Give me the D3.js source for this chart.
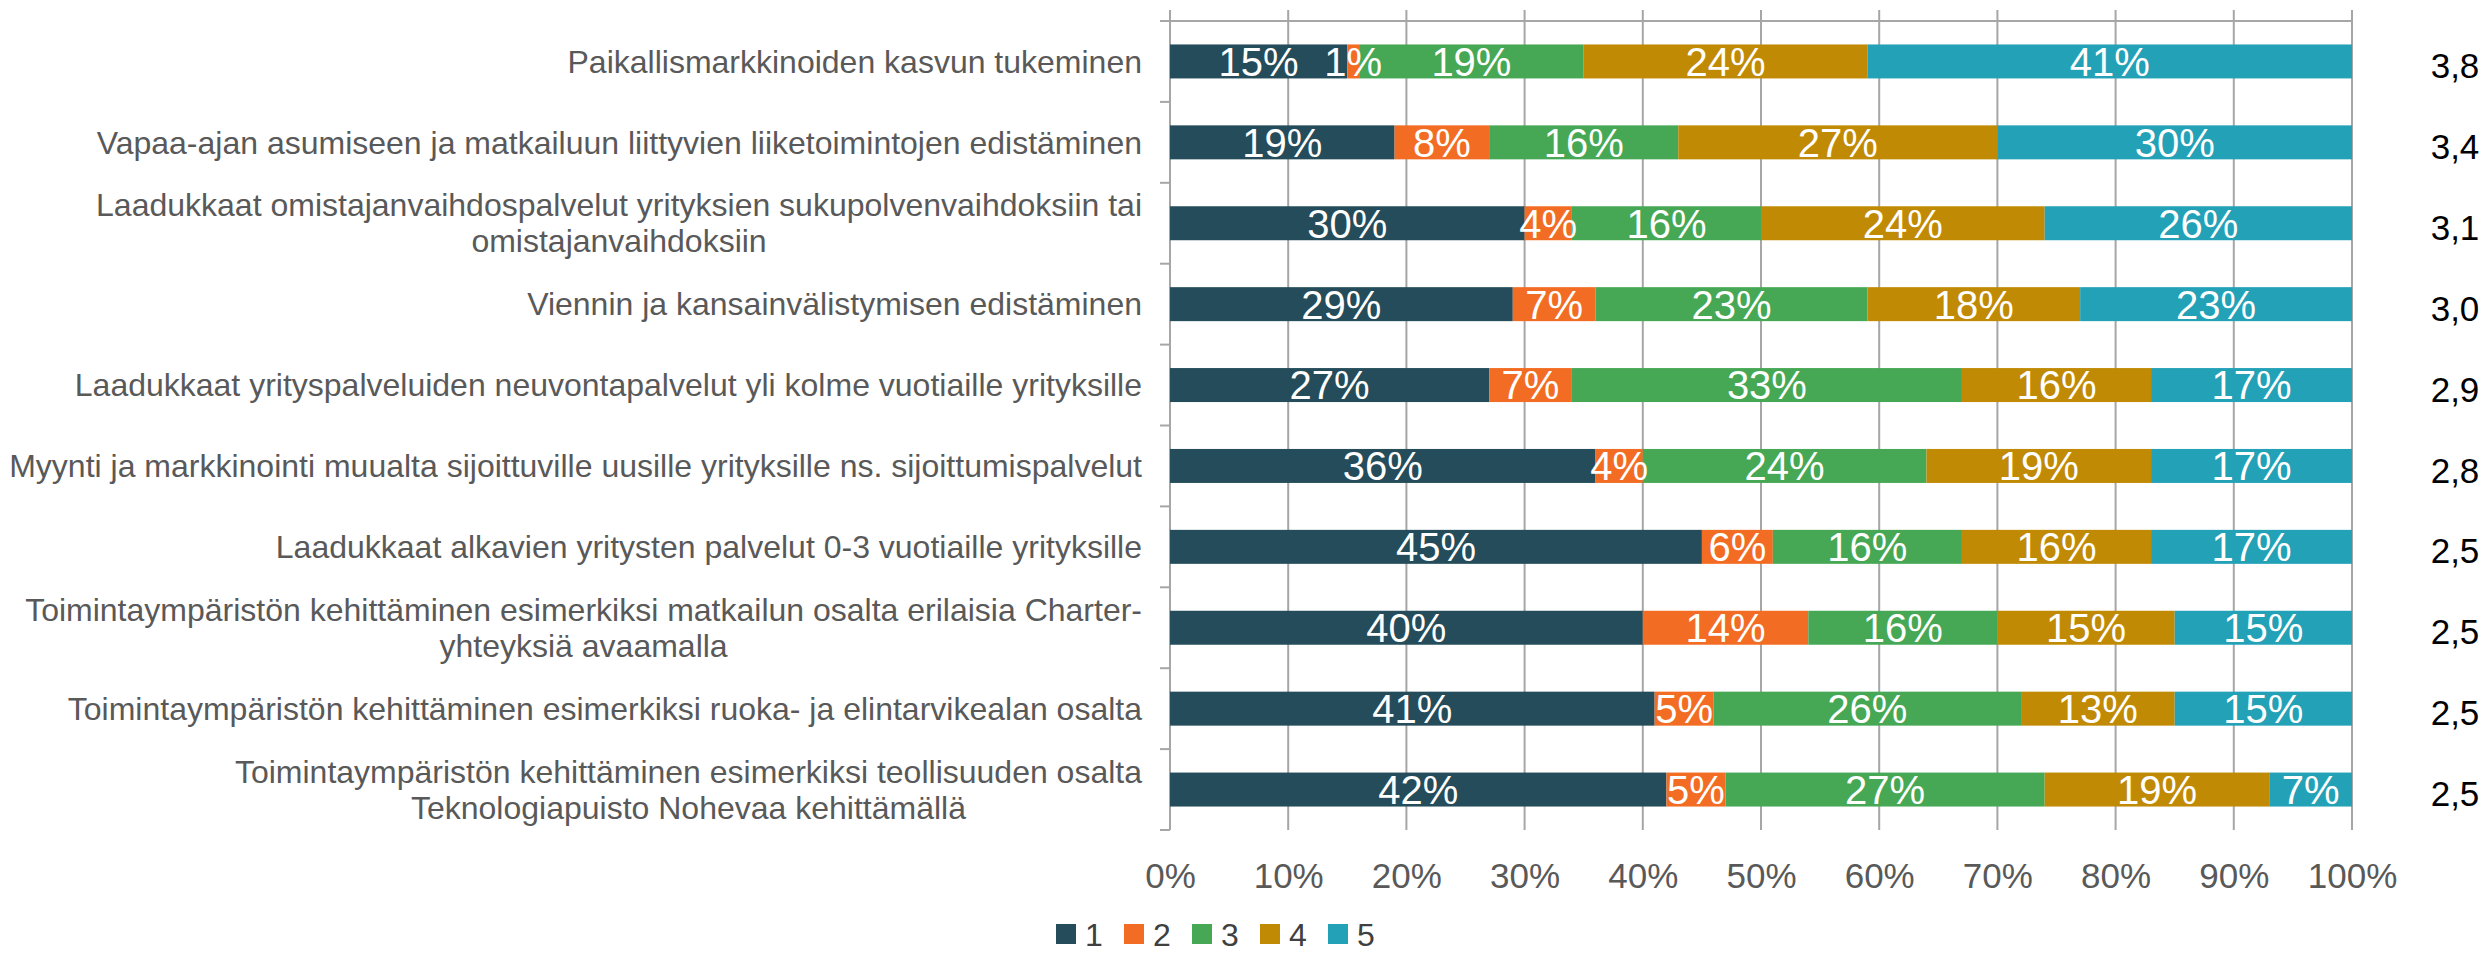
<!DOCTYPE html>
<meta charset="utf-8">
<style>
    html, body { margin: 0; padding: 0; background: #fff; }
    text { font-family: "Liberation Sans", Arial, sans-serif; }
</style>
<body>
<svg id="chart" width="2491" height="954"></svg>
<script src="https://cdn.jsdelivr.net/npm/d3@7"></script>
<script>
  // category labels (line breaks as in the original)
  var categories = [
    ["Paikallismarkkinoiden kasvun tukeminen"],
    ["Vapaa-ajan asumiseen ja matkailuun liittyvien liiketoimintojen edistäminen"],
    ["Laadukkaat omistajanvaihdospalvelut yrityksien sukupolvenvaihdoksiin tai", "omistajanvaihdoksiin"],
    ["Viennin ja kansainvälistymisen edistäminen"],
    ["Laadukkaat yrityspalveluiden neuvontapalvelut yli kolme vuotiaille yrityksille"],
    ["Myynti ja markkinointi muualta sijoittuville uusille yrityksille ns. sijoittumispalvelut"],
    ["Laadukkaat alkavien yritysten palvelut 0-3 vuotiaille yrityksille"],
    ["Toimintaympäristön kehittäminen esimerkiksi matkailun osalta erilaisia Charter-", "yhteyksiä avaamalla"],
    ["Toimintaympäristön kehittäminen esimerkiksi ruoka- ja elintarvikealan osalta"],
    ["Toimintaympäristön kehittäminen esimerkiksi teollisuuden osalta", "Teknologiapuisto Nohevaa kehittämällä"]
  ];

  var seriesNames = ["1", "2", "3", "4", "5"];

  // percentages per answer 1..5
  var s1 = [15, 19, 30, 29, 27, 36, 45, 40, 41, 42];
  var s2 = [1, 8, 4, 7, 7, 4, 6, 14, 5, 5];
  var s3 = [19, 16, 16, 23, 33, 24, 16, 16, 26, 27];
  var s4 = [24, 27, 24, 18, 16, 19, 16, 15, 13, 19];
  var s5 = [41, 30, 26, 23, 17, 17, 17, 15, 15, 7];

  var averages = ["3,8", "3,4", "3,1", "3,0", "2,9", "2,8", "2,5", "2,5", "2,5", "2,5"];

  var xTicks = [0, 0.1, 0.2, 0.3, 0.4, 0.5, 0.6, 0.7, 0.8, 0.9, 1];

  var colors = ["#244c5a", "#f26c23", "#46a855", "#c18a04", "#23a1b6"];

  var series = [s1, s2, s3, s4, s5];

  var svg = d3.select("#chart");

  var x = d3.scaleLinear().domain([0, 1]).range([1170, 2352]);
  var y = d3.scaleBand()
    .domain(d3.range(categories.length))
    .range([21, 830])
    .paddingInner(0.58)
    .paddingOuter(0.29);
  var color = d3.scaleOrdinal().domain(seriesNames).range(colors);

  // gridlines
  svg.append("g").selectAll("line")
    .data(xTicks)
    .enter().append("line")
    .attr("x1", function (d) { return x(d); })
    .attr("x2", function (d) { return x(d); })
    .attr("y1", 10)
    .attr("y2", 830)
    .attr("stroke", "#a6a6a6")
    .attr("stroke-width", 2);

  // category axis (sits on top, reversed order)
  svg.append("line")
    .attr("x1", 1160).attr("x2", x(1))
    .attr("y1", 21).attr("y2", 21)
    .attr("stroke", "#a6a6a6").attr("stroke-width", 2);

  var step = y.step();
  svg.append("g").selectAll("line")
    .data(d3.range(categories.length + 1))
    .enter().append("line")
    .attr("x1", 1160).attr("x2", x(0))
    .attr("y1", function (i) { return 21 + i * step; })
    .attr("y2", function (i) { return 21 + i * step; })
    .attr("stroke", "#a6a6a6").attr("stroke-width", 2);

  // stacked bars
  var stackData = categories.map(function (c, i) {
    var row = { idx: i };
    seriesNames.forEach(function (s, k) { row[s] = series[k][i] / 100; });
    return row;
  });
  var stacked = d3.stack().keys(seriesNames)(stackData);

  svg.append("g").selectAll("g")
    .data(stacked)
    .enter().append("g")
    .attr("fill", function (d) { return color(d.key); })
    .selectAll("rect")
    .data(function (d) { return d; })
    .enter().append("rect")
    .attr("x", function (d) { return x(d[0]); })
    .attr("width", function (d) { return x(d[1]) - x(d[0]); })
    .attr("y", function (d) { return y(d.data.idx); })
    .attr("height", y.bandwidth());

  // value labels on top of all bars
  svg.append("g").selectAll("g")
    .data(stacked)
    .enter().append("g")
    .selectAll("text")
    .data(function (d) { return d; })
    .enter().append("text")
    .attr("x", function (d) { return (x(d[0]) + x(d[1])) / 2; })
    .attr("y", function (d) { return y(d.data.idx) + y.bandwidth() / 2; })
    .attr("dy", "0.36em")
    .attr("text-anchor", "middle")
    .attr("fill", "#fff")
    .style("font-size", "40px")
    .text(function (d) { return Math.round((d[1] - d[0]) * 100) + "%"; });

  // category labels, block right-aligned, lines centred inside block
  var labelRight = 1142;
  var lineH = 36;
  categories.forEach(function (lines, i) {
    var cy = y(i) + y.bandwidth() / 2;
    var t = svg.append("text")
      .attr("fill", "#595959")
      .style("font-size", "32px")
      .attr("text-anchor", "middle");
    var spans = lines.map(function (l) { return t.append("tspan").text(l); });
    var w = d3.max(spans, function (s) { return s.node().getComputedTextLength(); });
    var cx = labelRight - w / 2;
    var top = cy - (lines.length - 1) * lineH / 2;
    spans.forEach(function (s, k) {
      s.attr("x", cx).attr("y", top + k * lineH).attr("dy", "0.35em");
    });
  });

  // x axis labels
  var xAxis = d3.axisBottom(x)
    .tickValues(xTicks)
    .tickFormat(d3.format(".0%"))
    .tickSize(0)
    .tickPadding(33);
  var ax = svg.append("g")
    .attr("transform", "translate(0,830)")
    .call(xAxis);
  ax.select(".domain").remove();
  ax.selectAll("text")
    .attr("fill", "#595959")
    .style("font-size", "35px")
    .style("font-family", "'Liberation Sans', Arial, sans-serif");

  // averages at right
  svg.append("g").selectAll("text")
    .data(averages)
    .enter().append("text")
    .attr("x", 2455)
    .attr("y", function (d, i) { return y(i) + y.bandwidth() / 2 + 4; })
    .attr("dy", "0.36em")
    .attr("text-anchor", "middle")
    .attr("fill", "#000")
    .style("font-size", "35px")
    .text(function (d) { return d; });

  // legend
  var legend = svg.append("g").selectAll("g")
    .data(seriesNames)
    .enter().append("g")
    .attr("transform", function (d, i) { return "translate(" + (1056 + i * 68) + ",924)"; });
  legend.append("rect")
    .attr("width", 20).attr("height", 20)
    .attr("fill", function (d) { return color(d); });
  legend.append("text")
    .attr("x", 29).attr("y", 10)
    .attr("dy", "0.36em")
    .attr("fill", "#404040")
    .style("font-size", "32px")
    .text(function (d) { return d; });
</script>
</body>
